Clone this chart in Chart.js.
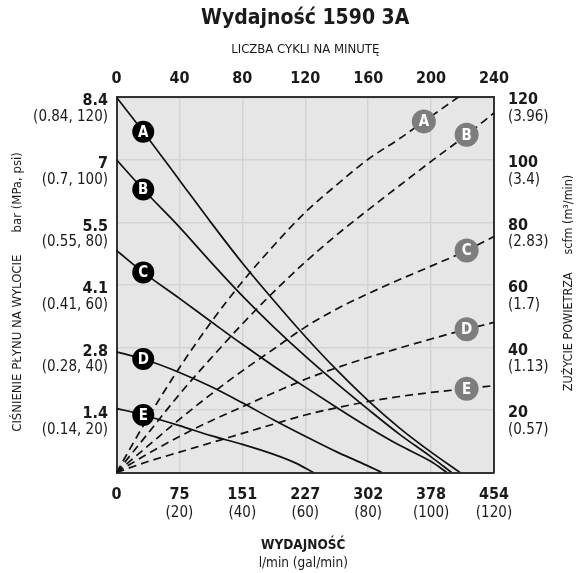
<!DOCTYPE html>
<html>
<head>
<meta charset="utf-8">
<script src="https://cdn.jsdelivr.net/npm/chart.js@4.4.1/dist/chart.umd.min.js"></script>
<style>
  html, body { margin: 0; padding: 0; background: #fff; }
  #wrap { width: 578px; height: 573px; }
</style>
</head>
<body>
<div id="wrap"><canvas id="perfChart" width="578" height="573"></canvas></div>
<script>
const FONT = "'Liberation Sans Narrow', 'DejaVu Sans Condensed', 'Roboto Condensed', sans-serif";

// curve names
const curves = ['A', 'B', 'C', 'D', 'E'];

// outlet pressure curves: [flow gal/min, pressure psi]
const pressA = [[0, 120], [8.5, 109], [20, 93.5], [30, 80], [40, 67], [50, 55], [60, 43.5], [70, 32.8], [80, 23], [90, 14.2], [100, 6.5], [109.2, 0]];
const pressB = [[0, 100], [8.5, 90.5], [20, 78.5], [30, 67.3], [40, 56.5], [50, 46.5], [60, 37.2], [70, 28.5], [80, 20.2], [90, 12.2], [100, 5], [106.5, 0]];
const pressC = [[0, 71], [8.5, 64], [20, 55.7], [30, 48.3], [40, 41], [50, 34], [60, 27.3], [70, 20.8], [80, 14.5], [90, 8.7], [100, 3.5], [105, 0]];
const pressD = [[0, 38.6], [8.5, 36.3], [20, 32], [30, 27.5], [40, 22.3], [50, 16.8], [60, 11.6], [70, 6.6], [78, 3], [84.3, 0]];
const pressE = [[0, 20.5], [8.5, 18.4], [20, 15], [30, 11.8], [40, 9], [50, 5.8], [57, 3], [62.6, 0]];

// air consumption curves: [flow gal/min, air scfm]
const airA = [[0, 0], [10, 17.5], [20, 33.5], [30, 48], [40, 61], [50, 72.6], [60, 83.2], [70, 92], [80, 100.2], [90, 106.8], [97.7, 112.3], [110, 121]];
const airB = [[0, 0], [10, 12.5], [20, 25], [30, 36.5], [40, 47.5], [50, 57.8], [60, 67.3], [70, 76], [80, 84], [90, 91.8], [100, 99.5], [111.3, 108], [120, 115]];
const airC = [[0, 0], [10, 8.5], [20, 17], [30, 25], [40, 32.5], [50, 39.5], [60, 46.5], [70, 52.3], [80, 57.2], [90, 61.7], [100, 66], [111.3, 71], [120, 75.5]];
const airD = [[0, 0], [10, 6], [20, 11.5], [30, 16.5], [40, 21], [50, 25.5], [60, 29.8], [70, 33.5], [80, 36.8], [90, 39.8], [100, 42.7], [111.3, 45.8], [120, 48]];
const airE = [[0, 0], [10, 3.5], [20, 6.5], [30, 9.5], [40, 12.5], [50, 15.5], [60, 18.4], [70, 20.7], [80, 22.7], [90, 24.3], [100, 25.6], [111.3, 26.8], [120, 27.8]];

// where the letter badges sit
const pressLabelFlow = [8.5, 8.5, 8.5, 8.5, 8.5];
const pressLabelPsi = [109, 90.5, 64, 36.3, 18.4];
const airLabelFlow = [97.7, 111.3, 111.3, 111.3, 111.3];
const airLabelScfm = [112.3, 108, 71, 45.8, 26.8];

// tick labels (index = value / 20)
const flowLpm = ['0', '75', '151', '227', '302', '378', '454'];
const flowGal = ['', '(20)', '(40)', '(60)', '(80)', '(100)', '(120)'];
const cyclesPerMin = ['0', '40', '80', '120', '160', '200', '240'];
const pressBar = [null, '1.4', '2.8', '4.1', '5.5', '7', '8.4'];
const pressMpaPsi = ['', '(0.14, 20)', '(0.28, 40)', '(0.41, 60)', '(0.55, 80)', '(0.7, 100)', '(0.84, 120)'];
const airScfm = [null, '20', '40', '60', '80', '100', '120'];
const airM3 = ['', '(0.57)', '(1.13)', '(1.7)', '(2.83)', '(3.4)', '(3.96)'];

const toPts = arr => arr.map(p => ({ x: p[0], y: p[1] }));
const idx = v => Math.round(v / 20);
const TEXT = '#1a1a1a';

const plotBg = {
    id: 'plotBg',
    beforeDraw(chart) {
        const { ctx, chartArea: a } = chart;
        ctx.save();
        ctx.fillStyle = '#e6e6e7';
        ctx.fillRect(a.left, a.top, a.width, a.height);
        ctx.restore();
    }
};

// second line of tick labels + axis titles that Chart.js can't style per line
const extraText = {
    id: 'extraText',
    afterDraw(chart) {
        const ctx = chart.ctx;
        const { x, y, y2 } = chart.scales;
        ctx.save();
        ctx.fillStyle = TEXT;
        ctx.textBaseline = 'middle';
        ctx.font = '15px ' + FONT;

        ctx.textAlign = 'center';
        x.ticks.forEach(t => ctx.fillText(flowGal[idx(t.value)], x.getPixelForValue(t.value), x.top + 41));

        ctx.textAlign = 'right';
        y.ticks.forEach(t => ctx.fillText(pressMpaPsi[idx(t.value)], y.right - 8.5, y.getPixelForValue(t.value) + 20));

        ctx.textAlign = 'left';
        y2.ticks.forEach(t => ctx.fillText(airM3[idx(t.value)], y2.left + 14, y2.getPixelForValue(t.value) + 20));

        // bottom title
        const cx = (chart.chartArea.left + chart.chartArea.right) / 2 - 2;
        ctx.textAlign = 'center';
        ctx.font = 'bold 13.5px ' + FONT;
        ctx.fillText('WYDAJNOŚĆ', cx, 545);
        ctx.font = '13.5px ' + FONT;
        ctx.fillText('l/min (gal/min)', cx, 563);

        // side titles, both read bottom to top
        ctx.save();
        ctx.font = '13px ' + FONT;
        ctx.translate(18, 292);
        ctx.rotate(-Math.PI / 2);
        ctx.fillText('CIŚNIENIE PŁYNU NA WYLOCIE      bar (MPa, psi)', 0, 0);
        ctx.restore();
        ctx.save();
        ctx.font = '12.5px ' + FONT;
        ctx.translate(569, 283);
        ctx.rotate(-Math.PI / 2);
        ctx.fillText('ZUŻYCIE POWIETRZA     scfm (m³/min)', 0, 0);
        ctx.restore();
        ctx.restore();
    }
};

// letters inside the round badges
const badgeLetters = {
    id: 'badgeLetters',
    afterDatasetsDraw(chart) {
        const ctx = chart.ctx;
        ctx.save();
        ctx.fillStyle = '#fff';
        ctx.textAlign = 'center';
        ctx.textBaseline = 'middle';
        ctx.font = 'bold 15px ' + FONT;
        chart.data.datasets.forEach((ds, i) => {
            if (!ds.badge) return;
            chart.getDatasetMeta(i).data.forEach((pt, j) => {
                ctx.fillText(curves[j], pt.x, pt.y + 1);
            });
        });
        ctx.restore();
    }
};

const pressSets = [pressA, pressB, pressC, pressD, pressE];
const airSets = [airA, airB, airC, airD, airE];

const datasets = [
    {
        type: 'scatter', badge: true, order: 0,
        data: pressLabelFlow.map((f, i) => ({ x: f, y: pressLabelPsi[i] })),
        pointRadius: 11, pointBackgroundColor: '#000', pointBorderWidth: 0, yAxisID: 'y'
    },
    {
        type: 'scatter', badge: true, order: 0,
        data: airLabelFlow.map((f, i) => ({ x: f, y: airLabelScfm[i] })),
        pointRadius: 12, pointBackgroundColor: '#7d7d7d', pointBorderWidth: 0, yAxisID: 'y2'
    }
];
pressSets.forEach((s, i) => datasets.push({
    label: 'Ciśnienie ' + curves[i], data: toPts(s), order: 1, yAxisID: 'y',
    borderColor: '#111', borderWidth: 1.7, pointRadius: 0, cubicInterpolationMode: 'monotone'
}));
airSets.forEach((s, i) => datasets.push({
    label: 'Powietrze ' + curves[i], data: toPts(s), order: 1, yAxisID: 'y2',
    borderColor: '#111', borderWidth: 1.7, borderDash: [8, 5], pointRadius: 0, cubicInterpolationMode: 'monotone'
}));

const tickFont = { family: FONT, size: 16, weight: 'bold' };
const frame = { color: '#333', width: 2 };

new Chart(document.getElementById('perfChart'), {
    type: 'line',
    data: { datasets: datasets },
    options: {
        responsive: false,
        animation: false,
        devicePixelRatio: 1,
        layout: { padding: 0 },
        plugins: {
            legend: { display: false },
            tooltip: { enabled: false },
            title: {
                display: true,
                fullSize: false,
                text: 'Wydajność 1590 3A',
                color: TEXT,
                font: { family: FONT, size: 21, weight: 'bold' },
                padding: { top: 6, bottom: 0 }
            }
        },
        scales: {
            x: {
                type: 'linear', position: 'bottom', min: 0, max: 120,
                ticks: { stepSize: 20, padding: 13, color: TEXT, font: tickFont, maxRotation: 0, autoSkip: false,
                         callback: v => flowLpm[idx(v)] },
                grid: { color: '#d3d3d3', lineWidth: 1.5, drawTicks: false },
                border: frame,
                afterFit: s => { s.height = 100.5; }
            },
            x2: {
                type: 'linear', position: 'top', min: 0, max: 240,
                ticks: { stepSize: 40, padding: 9, color: TEXT, font: tickFont, maxRotation: 0, autoSkip: false,
                         callback: v => cyclesPerMin[Math.round(v / 40)] },
                grid: { color: 'rgba(0,0,0,0)', drawTicks: false },
                border: frame,
                title: { display: true, text: 'LICZBA CYKLI NA MINUTĘ', color: TEXT,
                         font: { family: FONT, size: 13 }, padding: { top: 11, bottom: 0 } },
                afterFit: s => { s.height = 66.1; }
            },
            y: {
                type: 'linear', position: 'left', min: 0, max: 120,
                ticks: { stepSize: 20, padding: 8.5, labelOffset: 4, color: TEXT, font: tickFont,
                         callback: v => pressBar[idx(v)] },
                grid: { color: '#d3d3d3', lineWidth: 1.5, drawTicks: false },
                border: frame,
                afterFit: s => { s.width = 116.5; }
            },
            y2: {
                type: 'linear', position: 'right', min: 0, max: 120,
                ticks: { stepSize: 20, padding: 14, labelOffset: 3, color: TEXT, font: tickFont,
                         callback: v => airScfm[idx(v)] },
                grid: { color: 'rgba(0,0,0,0)', drawTicks: false },
                border: frame,
                afterFit: s => { s.width = 84; }
            }
        }
    },
    plugins: [plotBg, extraText, badgeLetters]
});
</script>
</body>
</html>
